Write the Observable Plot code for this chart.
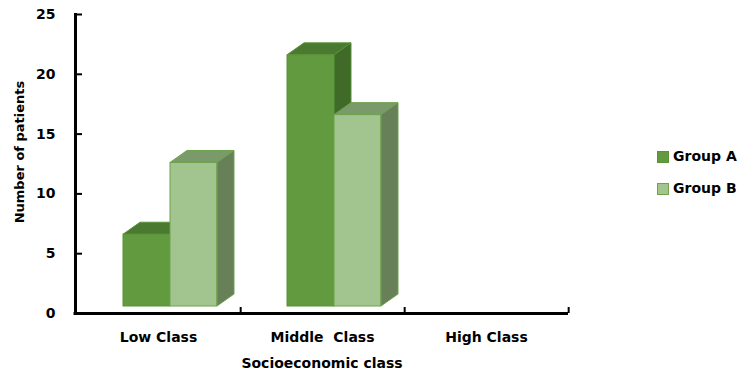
<!DOCTYPE html>
<html>
<head>
<meta charset="utf-8">
<script src="https://cdn.jsdelivr.net/npm/d3@7"></script>
<script src="https://cdn.jsdelivr.net/npm/@observablehq/plot@0.6"></script>
<style>
  body { margin: 0; background: #fff; }
  #chart { position: relative; width: 743px; height: 379px; }
  #chart svg text { white-space: pre; }
  .key { position: absolute; left: 657px; font: bold 14px "DejaVu Sans", sans-serif; color: #000; }
  .key .sw { position: absolute; left: 0; width: 10px; height: 10px; box-sizing: content-box; }
  .key .lab { position: absolute; left: 16px; line-height: 14px; white-space: nowrap; }
</style>
</head>
<body>
<div id="chart"></div>
<script>
// Patients per socioeconomic class, by study group
const categories = ["Low Class", "Middle  Class", "High Class"];
const groupA = [6, 21, 0];
const groupB = [12, 16, 0];
const groups = ["Group A", "Group B"];
const yTicks = [0, 5, 10, 15, 20, 25];

// Face colours of each 3D column: front, top, side, outline
const palette = {
  "Group A": {front: "#629a3f", top: "#4a7a2f", side: "#3f6a28", stroke: "#5b9238"},
  "Group B": {front: "#a2c590", top: "#7a9a6c", side: "#678058", stroke: "#6ea24c"}
};

const W = 743, H = 379;
const margin = {left: 75, right: 175, top: 14, bottom: 66};
const frameW = W - margin.left - margin.right;
const frameH = H - margin.top - margin.bottom;
const bw = frameW / categories.length;

// Column geometry inside each band (pixels)
const colW = 47, colStart = 47;   // first column starts this far into the band
const depthX = 17, depthY = 12;   // extrusion of the 3D block
const lift = 7;                   // front face sits above the floor line

const rowsA = categories.map((c, i) => ({cls: c, value: groupA[i], group: groups[0]}));
const rowsB = categories.map((c, i) => ({cls: c, value: groupB[i], group: groups[1]}));

// Top and side faces of the columns, placed with the plot's own x and y scales
function extrusion(rows, slot) {
  const col = palette[rows[0].group];
  return (index, scales) => {
    const x = scales.x, y = scales.y;
    const g = d3.create("svg:g");
    for (const d of rows) {
      if (!(d.value > 0)) continue;
      const x0 = x(d.cls) + colStart + slot * colW;
      const x1 = x0 + colW;
      const yt = y(d.value) - lift, yb = y(0) - lift;
      g.append("path")
        .attr("d", `M${x0},${yt}L${x0 + depthX},${yt - depthY}L${x1 + depthX},${yt - depthY}L${x1},${yt}Z`)
        .attr("fill", col.top).attr("stroke", col.stroke).attr("stroke-width", 1);
      g.append("path")
        .attr("d", `M${x1},${yt}L${x1 + depthX},${yt - depthY}L${x1 + depthX},${yb - depthY}L${x1},${yb}Z`)
        .attr("fill", col.side).attr("stroke", col.stroke).attr("stroke-width", 1);
    }
    return g.node();
  };
}

function fronts(rows, slot) {
  const col = palette[rows[0].group];
  return Plot.barY(rows, {
    filter: d => d.value > 0,
    x: "cls", y: "value",
    insetLeft: colStart + slot * colW,
    insetRight: bw - colStart - (slot + 1) * colW,
    dy: -lift,
    fill: col.front, stroke: col.stroke, strokeWidth: 1
  });
}

const chart = Plot.plot({
  width: W, height: H,
  marginLeft: margin.left, marginRight: margin.right,
  marginTop: margin.top, marginBottom: margin.bottom,
  style: {fontFamily: "'DejaVu Sans', sans-serif", fontWeight: "bold", fontSize: "14px", color: "#000", background: "#fff", overflow: "visible"},
  x: {type: "band", domain: categories, padding: 0, label: null},
  y: {domain: [0, 25], label: null},
  marks: [
    extrusion(rowsA, 0),
    fronts(rowsA, 0),
    extrusion(rowsB, 1),
    fronts(rowsB, 1),
    // axis lines and inward ticks
    Plot.frame({anchor: "left", stroke: "#000", strokeWidth: 3}),
    Plot.ruleY([0], {stroke: "#000", strokeWidth: 3, insetLeft: -1.5}),
    Plot.ruleY(yTicks.filter(t => t > 0), {stroke: "#000", strokeWidth: 2, insetRight: frameW - 7}),
    Plot.ruleX(categories, {x: d => d, dx: bw / 2, stroke: "#000", strokeWidth: 2, insetTop: frameH - 6}),
    Plot.axisY(yTicks, {tickSize: 0, tickPadding: 20, fontSize: 14, fontWeight: "bold", label: null}),
    Plot.axisX({tickSize: 0, tickPadding: 19, fontSize: 14, fontWeight: "bold", label: null}),
    Plot.text(["Socioeconomic class"], {frameAnchor: "bottom", lineAnchor: "middle", textAnchor: "middle", dy: 50, fontSize: 14, fontWeight: "bold"}),
    Plot.text(["Number of patients"], {frameAnchor: "left", rotate: -90, textAnchor: "middle", lineAnchor: "middle", dx: -56, dy: -12, fontSize: 13, fontWeight: "bold"})
  ]
});

const root = document.getElementById("chart");
root.appendChild(chart);

// Legend
groups.forEach((gname, i) => {
  const item = document.createElement("div");
  item.className = "key";
  item.style.top = (151 + i * 32) + "px";
  const sw = document.createElement("div");
  sw.className = "sw";
  sw.style.background = palette[gname].front;
  sw.style.border = "0.5px solid " + palette[gname].stroke;
  sw.style.top = "0px";
  const lab = document.createElement("div");
  lab.className = "lab";
  lab.style.top = "-2px";
  lab.textContent = gname;
  item.appendChild(sw);
  item.appendChild(lab);
  root.appendChild(item);
});
</script>
</body>
</html>
